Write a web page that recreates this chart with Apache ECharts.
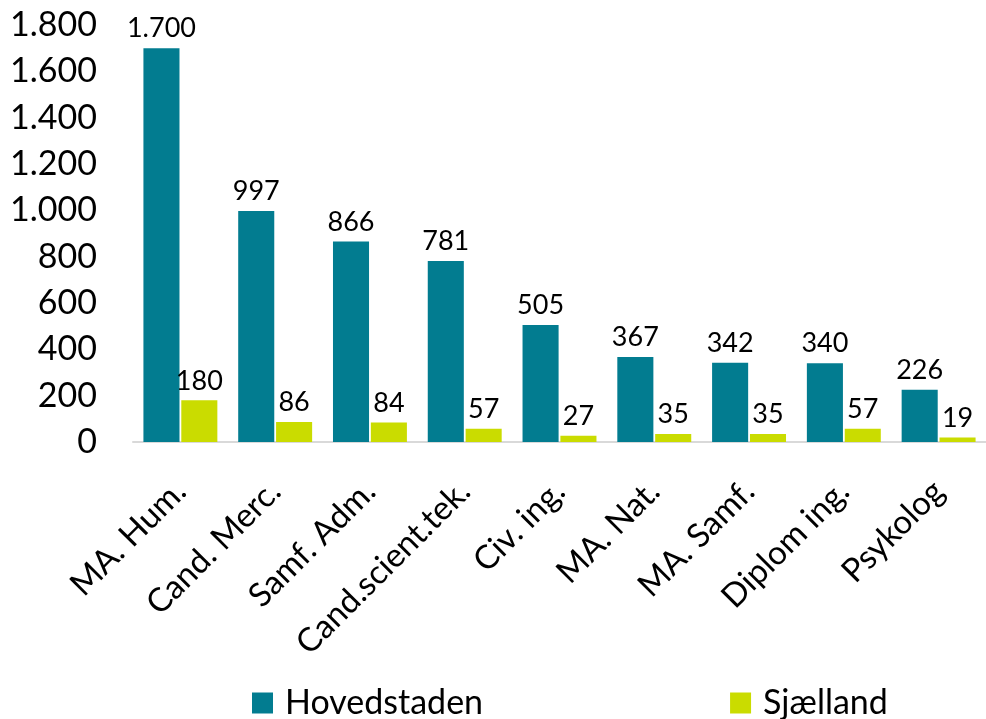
<!DOCTYPE html>
<html>
<head>
<meta charset="utf-8">
<script src="https://cdn.jsdelivr.net/npm/echarts@6/dist/echarts.min.js"></script>
<style>
  html, body { margin: 0; padding: 0; background: #fff; }
  #chart { width: 986px; height: 719px; }
</style>
</head>
<body>
<div id="chart"></div>
<script>
// uddannelser (kategorier)
const categories = ['MA. Hum.', 'Cand. Merc.', 'Samf. Adm.', 'Cand.scient.tek.', 'Civ. ing.', 'MA. Nat.', 'MA. Samf.', 'Diplom ing.', 'Psykolog'];
const hovedstaden = [1700, 997, 866, 781, 505, 367, 342, 340, 226];
const sjaelland = [180, 86, 84, 57, 27, 35, 35, 57, 19];

const FONT = 'Lato, "Open Sans", sans-serif';

// dansk tusindtalsseparator
function fmt(v) {
    return String(v).replace(/\B(?=(\d{3})+(?!\d))/g, '.');
}

const chart = echarts.init(document.getElementById('chart'));

const labelStyle = {
    show: true,
    position: 'top',
    distance: 6,
    color: '#000',
    fontFamily: FONT,
    fontSize: 27,
    formatter: p => fmt(p.value)
};

chart.setOption({
    animation: false,
    backgroundColor: '#fff',
    grid: {
        left: 133,
        top: 25,
        width: 860,
        bottom: 277
    },
    legend: {
        left: 247,
        top: 681,
        itemGap: 247,
        itemWidth: 21,
        itemHeight: 21,
        icon: 'rect',
        textStyle: { color: '#000', fontFamily: FONT, fontSize: 34, padding: [0, 0, 0, 7] },
        data: ['Hovedstaden', 'Sjælland']
    },
    xAxis: {
        type: 'category',
        data: categories,
        axisLine: { lineStyle: { color: '#d9d9d9', width: 2 } },
        axisTick: { show: false },
        axisLabel: {
            interval: 0,
            rotate: 45,
            margin: 44,
            color: '#000',
            fontFamily: FONT,
            fontSize: 33
        }
    },
    yAxis: {
        type: 'value',
        min: 0,
        max: 1800,
        interval: 200,
        splitLine: { show: false },
        axisLine: { show: false },
        axisTick: { show: false },
        axisLabel: {
            margin: 36,
            color: '#000',
            fontFamily: FONT,
            fontSize: 34,
            formatter: v => fmt(v)
        }
    },
    series: [
        {
            name: 'Hovedstaden',
            type: 'bar',
            data: hovedstaden,
            barGap: '5%',
            barCategoryGap: '22%',
            itemStyle: { color: '#027C90' },
            label: labelStyle
        },
        {
            name: 'Sjælland',
            type: 'bar',
            data: sjaelland,
            itemStyle: { color: '#CADC00' },
            label: labelStyle
        }
    ]
});
</script>
</body>
</html>
